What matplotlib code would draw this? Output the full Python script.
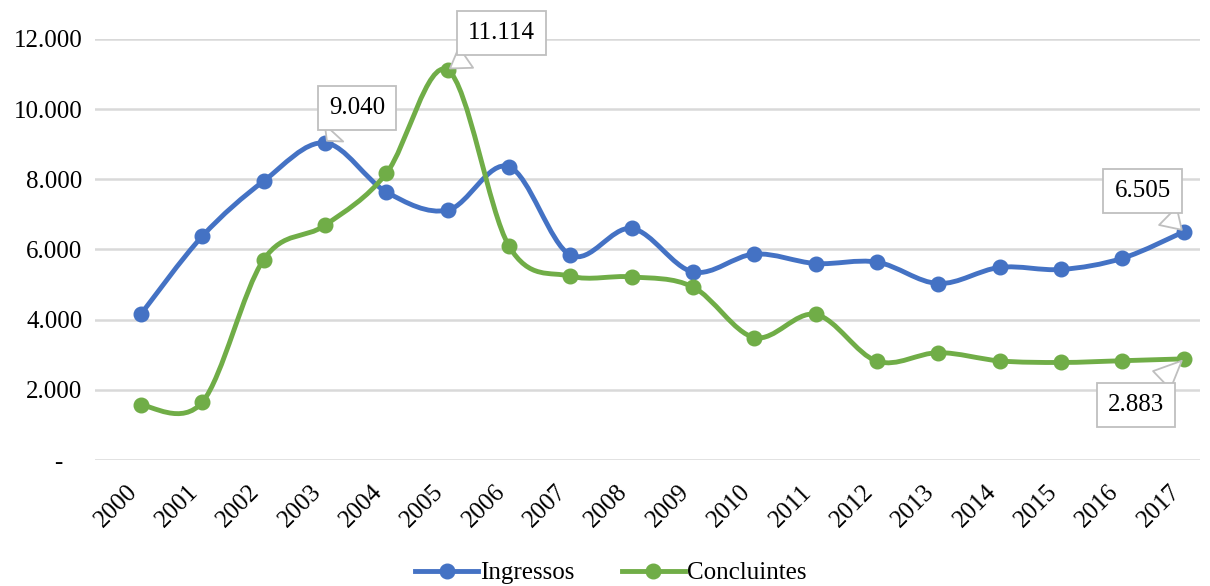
import matplotlib
matplotlib.use("Agg")
import matplotlib.pyplot as plt
from matplotlib.path import Path
from matplotlib.patches import PathPatch
from matplotlib.lines import Line2D
from matplotlib.ticker import FuncFormatter
from matplotlib.transforms import ScaledTranslation
import numpy as np

# data
anos = [str(a) for a in range(2000, 2018)]
ingressos = [4160, 6380, 7950, 9040, 7640, 7120, 8360, 5840, 6600, 5360,
             5870, 5600, 5640, 5030, 5490, 5430, 5750, 6505]
concluintes = [1560, 1650, 5710, 6690, 8170, 11114, 6095, 5240, 5220, 4930,
               3490, 4150, 2815, 3060, 2825, 2780, 2830, 2883]

azul = "#4472C4"
verde = "#70AD47"

plt.rcParams['font.family'] = ['Liberation Serif', 'DejaVu Serif']


def curva_suave(xs, ys):
    # Catmull-Rom style bezier, like Excel "smoothed line"
    p = np.column_stack([xs, ys]).astype(float)
    n = len(p)
    verts = [p[0]]
    codes = [Path.MOVETO]
    for i in range(n - 1):
        p0 = p[i - 1] if i > 0 else p[i]
        p3 = p[i + 2] if i + 2 < n else p[i + 1]
        c1 = p[i] + (p[i + 1] - p0) / 6
        c2 = p[i + 1] - (p3 - p[i]) / 6
        verts += [c1, c2, p[i + 1]]
        codes += [Path.CURVE4] * 3
    return Path(verts, codes)


fig = plt.figure(figsize=(12.1, 5.86), dpi=100)
ax = fig.add_axes([0.0785, 0.215, 0.9135, 0.7185])

x = np.arange(len(anos))
for serie, cor in [(ingressos, azul), (concluintes, verde)]:
    ax.add_patch(PathPatch(curva_suave(x, serie), fill=False, ec=cor, lw=3.5,
                           capstyle='round', joinstyle='round', zorder=3))
    ax.plot(x, serie, 'o', color=cor, ms=10.5, ls='none', zorder=4)

ax.set_xlim(-0.75, 17.27)
ax.set_ylim(0, 12000)
ax.set_yticks(range(0, 12001, 2000))
ax.yaxis.set_major_formatter(FuncFormatter(
    lambda v, p: "-   " if v == 0 else f"{int(v):,}".replace(",", ".")))
ax.set_xticks(x)
ax.set_xticklabels(anos, rotation=45, ha='right', rotation_mode='anchor')
ax.tick_params(axis='both', length=0, labelsize=18, colors='#000000')
ax.tick_params(axis='y', pad=9)
ax.tick_params(axis='x', pad=15)
desloc = ScaledTranslation(-0.15, 0, fig.dpi_scale_trans)
for lb in ax.get_xticklabels():
    lb.set_transform(lb.get_transform() + desloc)
ax.grid(axis='y', color='#d9d9d9', lw=1.8)
ax.set_axisbelow(True)
for s in ax.spines.values():
    s.set_visible(False)

# callout labels
caixa = dict(boxstyle='square,pad=0.45', fc='white', ec='#bfbfbf', lw=1.3)
seta = dict(arrowstyle='wedge,tail_width=1.0,shrink_factor=0.5', fc='white',
            ec='#bfbfbf', lw=1.3)
rotulos = [(3, ingressos[3], 3.52, 10030),
           (5, concluintes[5], 5.88, 12170),
           (17, ingressos[17], 16.33, 7660),
           (17, concluintes[17], 16.22, 1570)]
for i, v, tx, ty in rotulos:
    ax.annotate(f"{v:,}".replace(",", "."), xy=(i, v), xytext=(tx, ty),
                ha='center', va='center', fontsize=18, bbox=caixa,
                arrowprops=seta, annotation_clip=False, zorder=5)

handles = [Line2D([], [], color=azul, lw=3.5, marker='o', ms=10.5),
           Line2D([], [], color=verde, lw=3.5, marker='o', ms=10.5)]
fig.legend(handles, ['Ingressos', 'Concluintes'], loc='center',
           bbox_to_anchor=(0.505, 0.022), ncol=2, frameon=False, fontsize=18,
           handlelength=2.5, handletextpad=0.1, columnspacing=1.9)

fig.savefig("out.png", dpi=100)
